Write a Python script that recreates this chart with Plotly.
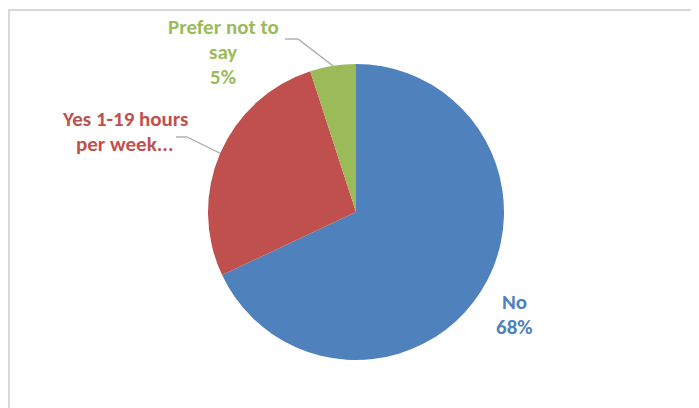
"""
Pie chart: working hours survey answer split.
"""

import math
import plotly.graph_objects as go

# Data
categories = ["No", "Yes 1-19 hours per week", "Prefer not to say"]
shares = [68, 27, 5]
label_lines = [["No", "68%"], ["Yes 1-19 hours", "per week..."], ["Prefer not to", "say", "5%"]]

COLORS = ["#4F81BD", "#C0504D", "#9BBB59"]
FONT = "Carlito, 'Liberation Sans Narrow', Lato, sans-serif"

W, H = 699, 408
OFF = 8  # page body margin in the browser
CX, CY, R = 356, 212, 148  # pie centre / radius in pixels (screen)
LINE_GAP = 25


def px(x):
    return (x - OFF) / W


def py(y):
    return 1 - (y - OFF) / H


fig = go.Figure(go.Pie(
    labels=categories,
    values=shares,
    sort=False,
    direction="clockwise",
    rotation=0,
    textinfo="none",
    hoverinfo="label+percent",
    marker=dict(colors=COLORS, line=dict(width=0)),
    domain=dict(x=[px(CX - R), px(CX + R)], y=[py(CY + R), py(CY - R)]),
    showlegend=False,
))

# mid angle of each slice (clockwise from 12 o'clock)
total = sum(shares)
mids = []
start = 0
for v in shares:
    sweep = 360 * v / total
    mids.append(start + sweep / 2)
    start += sweep

# label placement (pixel centre of first line) and leader line knee points
label_pos = [(514, 302), (125, 119), (223, 27)]
knees = [None, [(176, 137), (187, 137)], [(285, 39), (298, 39)]]

for i, lines in enumerate(label_lines):
    x, y = label_pos[i]
    for k, s in enumerate(lines):
        fig.add_annotation(
            text=f"<b>{s}</b>", x=px(x), y=py(y + k * LINE_GAP),
            xref="paper", yref="paper",
            showarrow=False, xanchor="center", yanchor="middle",
            font=dict(family=FONT, size=21, color=COLORS[i]),
        )
    if knees[i]:
        a = math.radians(mids[i])
        ex, ey = CX + R * math.sin(a), CY - R * math.cos(a)
        (x0, y0), (x1, y1) = knees[i]
        for (ax, ay, bx, by) in [(x0, y0, x1, y1), (x1, y1, ex, ey)]:
            fig.add_shape(type="line", xref="paper", yref="paper",
                          x0=px(ax), y0=py(ay), x1=px(bx), y1=py(by),
                          line=dict(color="#A6A6A6", width=1.3))

# chart frame
fig.add_shape(type="rect", xref="paper", yref="paper",
              x0=px(9), y0=py(430), x1=px(720), y1=py(10),
              line=dict(color="#D9D9D9", width=2))

fig.update_layout(
    width=W, height=H,
    margin=dict(l=0, r=0, t=0, b=0),
    paper_bgcolor="white",
    plot_bgcolor="white",
    font=dict(family=FONT),
)

fig.write_html("out.html")
